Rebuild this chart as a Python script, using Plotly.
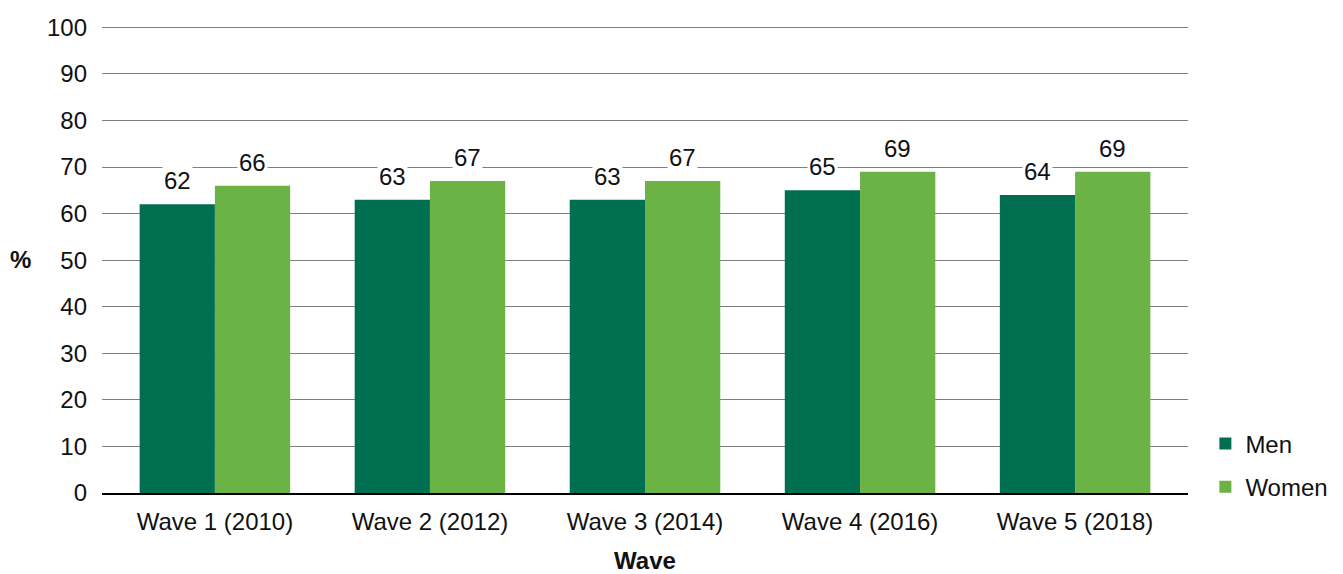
import plotly.graph_objects as go

categories = ["Wave 1 (2010)", "Wave 2 (2012)", "Wave 3 (2014)", "Wave 4 (2016)", "Wave 5 (2018)"]
men = [62, 63, 63, 65, 64]
women = [66, 67, 67, 69, 69]
y_ticks = [0, 10, 20, 30, 40, 50, 60, 70, 80, 90, 100]

MEN_COLOR = "#006F51"
WOMEN_COLOR = "#6AB344"
FONT = "Liberation Sans, Arial, sans-serif"
FS = 24

fig = go.Figure()
fig.add_trace(go.Bar(x=categories, y=men, name="Men", marker_color=MEN_COLOR,
                     marker_line_width=0, legendgroup="m"))
fig.add_trace(go.Bar(x=categories, y=women, name="Women", marker_color=WOMEN_COLOR,
                     marker_line_width=0, legendgroup="w"))

annotations = []
for cat, m, w in zip(categories, men, women):
    for val, shift in ((m, -37.7), (w, 37.7)):
        annotations.append(dict(
            x=cat, y=val, xref="x", yref="y", text=str(val), showarrow=False,
            xshift=shift, yshift=8, yanchor="bottom", bgcolor="white",
            borderpad=1, font=dict(size=FS, color="#111111", family=FONT)))

annotations.append(dict(
    x=0, y=0.5, xref="paper", yref="paper", text="<b>%</b>", showarrow=False,
    xshift=-82, xanchor="center", yanchor="middle",
    font=dict(size=FS, color="#111111", family=FONT)))

fig.update_layout(
    width=1335, height=566,
    margin=dict(l=94, r=155, t=17, b=81, autoexpand=False),
    paper_bgcolor="white", plot_bgcolor="white",
    font=dict(family=FONT, size=FS, color="#111111"),
    barmode="group", bargap=0.3, bargroupgap=0,
    annotations=annotations,
    showlegend=True,
    legend=dict(x=1.016, y=0.153, xanchor="left", yanchor="top",
                font=dict(size=FS), tracegroupgap=9, traceorder="grouped",
                bgcolor="rgba(0,0,0,0)"),
    xaxis=dict(
        type="category", range=[-0.525, 4.525], automargin=False,
        showline=True, linecolor="black", linewidth=2,
        ticks="", ticklabelstandoff=6,
        title=dict(text="<b>Wave</b>", font=dict(size=FS), standoff=33),
        tickfont=dict(size=FS),
    ),
    yaxis=dict(
        range=[0, 100.5], tickvals=y_ticks, showgrid=True, automargin=False,
        gridcolor="#7f7f7f", gridwidth=1,
        zeroline=False, showline=False, ticks="",
        ticklabelstandoff=14, tickfont=dict(size=FS),
    ),
)

fig.write_html("out.html")
